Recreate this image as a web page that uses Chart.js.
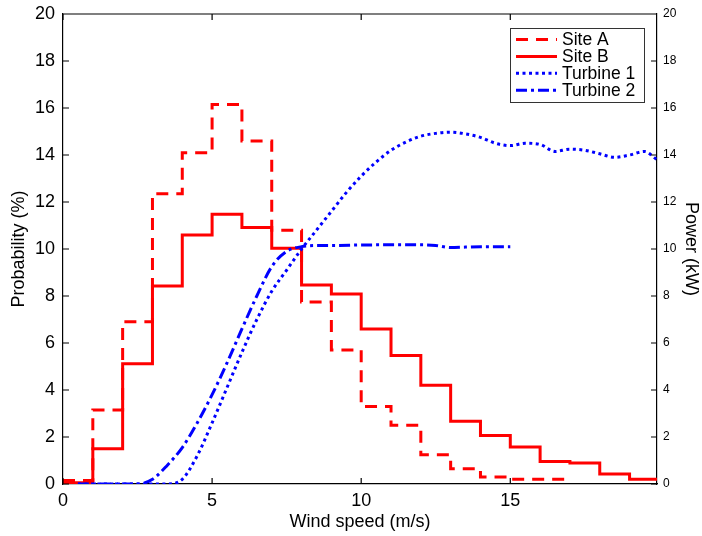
<!DOCTYPE html>
<html>
<head>
<meta charset="utf-8">
<title>Wind speed distribution and power curves</title>
<script src="https://cdn.jsdelivr.net/npm/chart.js@4"></script>
<style>
  html, body { margin: 0; padding: 0; background: #fff; }
  #wrap { width: 702px; height: 536px; }
</style>
</head>
<body>
<div id="wrap"><canvas id="windChart" width="702" height="536"></canvas></div>
<script>
// Wind speed bins (m/s) - left edges plus the closing edge
const siteAEdges = [0, 1, 2, 3, 4, 5, 6, 7, 8, 9, 10, 11, 12, 13, 14, 15, 16, 17];
const siteAProb = [0.15, 3.15, 6.9, 12.35, 14.1, 16.15, 14.6, 10.8, 7.75, 5.7, 3.3, 2.5, 1.25, 0.65, 0.3, 0.2, 0.2];

const siteBEdges = [0, 1, 2, 3, 4, 5, 6, 7, 8, 9, 10, 11, 12, 13, 14, 15, 16, 17, 18, 19, 20];
const siteBProb = [0.05, 1.5, 5.12, 8.43, 10.6, 11.48, 10.92, 10.03, 8.47, 8.09, 6.6, 5.47, 4.2, 2.67, 2.06, 1.57, 0.96, 0.89, 0.43, 0.2];

// Power curves (kW)
const turbine1Speed = [0.5, 3.5, 4, 4.5, 5, 5.5, 6, 6.5, 7, 7.5, 8, 8.5, 9, 9.5, 10, 10.5, 11, 11.5, 12, 12.5, 13, 13.5, 14, 14.5, 15, 15.5, 16, 16.5, 17, 17.5, 18, 18.5, 19, 19.5, 19.92];
const turbine1Power = [0, 0, 0.2, 1.2, 2.6, 4.1, 5.6, 7.0, 8.2, 9.1, 10.0, 10.8, 11.6, 12.4, 13.1, 13.7, 14.2, 14.55, 14.8, 14.92, 14.97, 14.9, 14.75, 14.5, 14.4, 14.5, 14.45, 14.15, 14.25, 14.2, 14.05, 13.9, 14.0, 14.15, 13.8];

const turbine2Speed = [0.5, 2.5, 3, 3.5, 4, 4.5, 5, 5.5, 6, 6.5, 7, 7.5, 8, 8.5, 9, 10, 11, 12, 12.5, 13, 13.5, 14, 15];
const turbine2Power = [0, 0, 0.2, 0.8, 1.55, 2.6, 3.8, 5.15, 6.6, 8.0, 9.25, 9.9, 10.1, 10.15, 10.15, 10.17, 10.18, 10.18, 10.15, 10.06, 10.08, 10.1, 10.1];

const xMax = 19.92;
const FONT = '"Liberation Sans", Arial, Helvetica, sans-serif';

// histogram -> points for a stepped line (last value repeated at the closing edge)
function stepPoints(edges, vals) {
    return edges.map((x, i) => ({ x: x, y: vals[Math.min(i, vals.length - 1)] }));
}

function curvePoints(xs, ys) {
    return xs.map((x, i) => ({ x: x, y: ys[i] }));
}

// fixed axis sizes so the plot box lands where the original one is
function fixWidth(w) {
    return (s) => {
        s.width = w;
        s.paddingTop = 0;
        s.paddingBottom = 0;
    };
}

// Matlab style box with inward ticks
const boxTicks = {
    id: 'boxTicks',
    afterDraw(chart) {
        const { ctx, chartArea: a, scales } = chart;
        const len = 6;
        ctx.save();
        ctx.strokeStyle = '#000';
        ctx.lineWidth = 1.2;
        ctx.beginPath();
        ctx.moveTo(a.left, a.top);
        ctx.lineTo(a.right, a.top);
        scales.x.ticks.forEach(t => {
            const px = scales.x.getPixelForValue(t.value);
            ctx.moveTo(px, a.bottom);
            ctx.lineTo(px, a.bottom - len);
            ctx.moveTo(px, a.top);
            ctx.lineTo(px, a.top + len);
        });
        scales.y.ticks.forEach(t => {
            const py = scales.y.getPixelForValue(t.value);
            ctx.moveTo(a.left, py);
            ctx.lineTo(a.left + len, py);
        });
        scales.y1.ticks.forEach(t => {
            const py = scales.y1.getPixelForValue(t.value);
            ctx.moveTo(a.right, py);
            ctx.lineTo(a.right - len, py);
        });
        ctx.stroke();
        ctx.restore();
    }
};

// legend box in the upper right corner
const boxLegend = {
    id: 'boxLegend',
    afterDraw(chart) {
        const { ctx, chartArea: a } = chart;
        const w = 134, h = 74, rowH = 16.9;
        const x0 = a.right - 13 - w;
        const y0 = a.top + 14;
        ctx.save();
        ctx.fillStyle = '#fff';
        ctx.fillRect(x0, y0, w, h);
        ctx.strokeStyle = '#333';
        ctx.lineWidth = 1;
        ctx.strokeRect(x0 + 0.5, y0 + 0.5, w, h);
        ctx.font = '17.5px ' + FONT;
        ctx.textBaseline = 'middle';
        chart.data.datasets.forEach((ds, i) => {
            const y = y0 + 11.5 + i * rowH;
            ctx.strokeStyle = ds.borderColor;
            ctx.lineWidth = ds.borderWidth;
            ctx.setLineDash(ds.borderDash || []);
            ctx.beginPath();
            ctx.moveTo(x0 + 6, y);
            ctx.lineTo(x0 + 47, y);
            ctx.stroke();
            ctx.setLineDash([]);
            ctx.fillStyle = '#000';
            ctx.fillText(ds.label, x0 + 52, y + 1);
        });
        ctx.restore();
    }
};

Chart.defaults.font.family = FONT;
Chart.defaults.color = '#000';

const ctx = document.getElementById('windChart').getContext('2d');
new Chart(ctx, {
    type: 'scatter',
    data: {
        datasets: [
            {
                label: 'Site A',
                data: stepPoints(siteAEdges, siteAProb),
                showLine: true,
                stepped: 'before',
                borderColor: '#ff0000',
                borderWidth: 3,
                borderDash: [12, 8],
                pointRadius: 0,
                yAxisID: 'y',
                order: 1,
            },
            {
                label: 'Site B',
                data: stepPoints(siteBEdges, siteBProb),
                showLine: true,
                stepped: 'before',
                borderColor: '#ff0000',
                borderWidth: 3,
                pointRadius: 0,
                yAxisID: 'y',
                order: 1,
            },
            {
                label: 'Turbine 1',
                data: curvePoints(turbine1Speed, turbine1Power),
                showLine: true,
                cubicInterpolationMode: 'monotone',
                borderColor: '#0000ff',
                borderWidth: 3,
                borderDash: [3, 3.5],
                pointRadius: 0,
                yAxisID: 'y1',
                order: 0,
            },
            {
                label: 'Turbine 2',
                data: curvePoints(turbine2Speed, turbine2Power),
                showLine: true,
                cubicInterpolationMode: 'monotone',
                borderColor: '#0000ff',
                borderWidth: 3,
                borderDash: [11, 4, 3, 4],
                pointRadius: 0,
                yAxisID: 'y1',
                order: 0,
            },
        ],
    },
    options: {
        responsive: false,
        animation: false,
        layout: { padding: { top: 14, left: 0, right: 0, bottom: 0 } },
        plugins: {
            legend: { display: false },
            tooltip: { enabled: false },
        },
        scales: {
            x: {
                type: 'linear',
                position: 'bottom',
                min: 0,
                max: xMax,
                afterFit: (s) => { s.height = 52; },
                grid: { drawOnChartArea: false, drawTicks: false },
                border: { display: true, color: '#000', width: 1.2 },
                ticks: { stepSize: 5, includeBounds: false, maxRotation: 0, padding: 6, font: { size: 18 }, color: '#000' },
                title: { display: true, text: 'Wind speed (m/s)', font: { size: 18 }, color: '#000', padding: { top: 0, bottom: 3 } },
            },
            y: {
                position: 'left',
                min: 0,
                max: 20,
                afterFit: fixWidth(63),
                grid: { drawOnChartArea: false, drawTicks: false },
                border: { display: true, color: '#000', width: 1.2 },
                ticks: { stepSize: 2, padding: 8, font: { size: 18 }, color: '#000' },
                title: { display: true, text: 'Probability (%)', font: { size: 18 }, color: '#000', padding: { top: 8, bottom: 0 } },
            },
            y1: {
                position: 'right',
                min: 0,
                max: 20,
                afterFit: fixWidth(45),
                grid: { drawOnChartArea: false, drawTicks: false },
                border: { display: true, color: '#000', width: 1.2 },
                ticks: { stepSize: 2, padding: 6, font: { size: 12 }, color: '#000' },
                title: { display: true, text: 'Power (kW)', font: { size: 18 }, color: '#000', padding: { top: 0, bottom: 0 } },
            },
        },
    },
    plugins: [boxTicks, boxLegend],
});
</script>
</body>
</html>
